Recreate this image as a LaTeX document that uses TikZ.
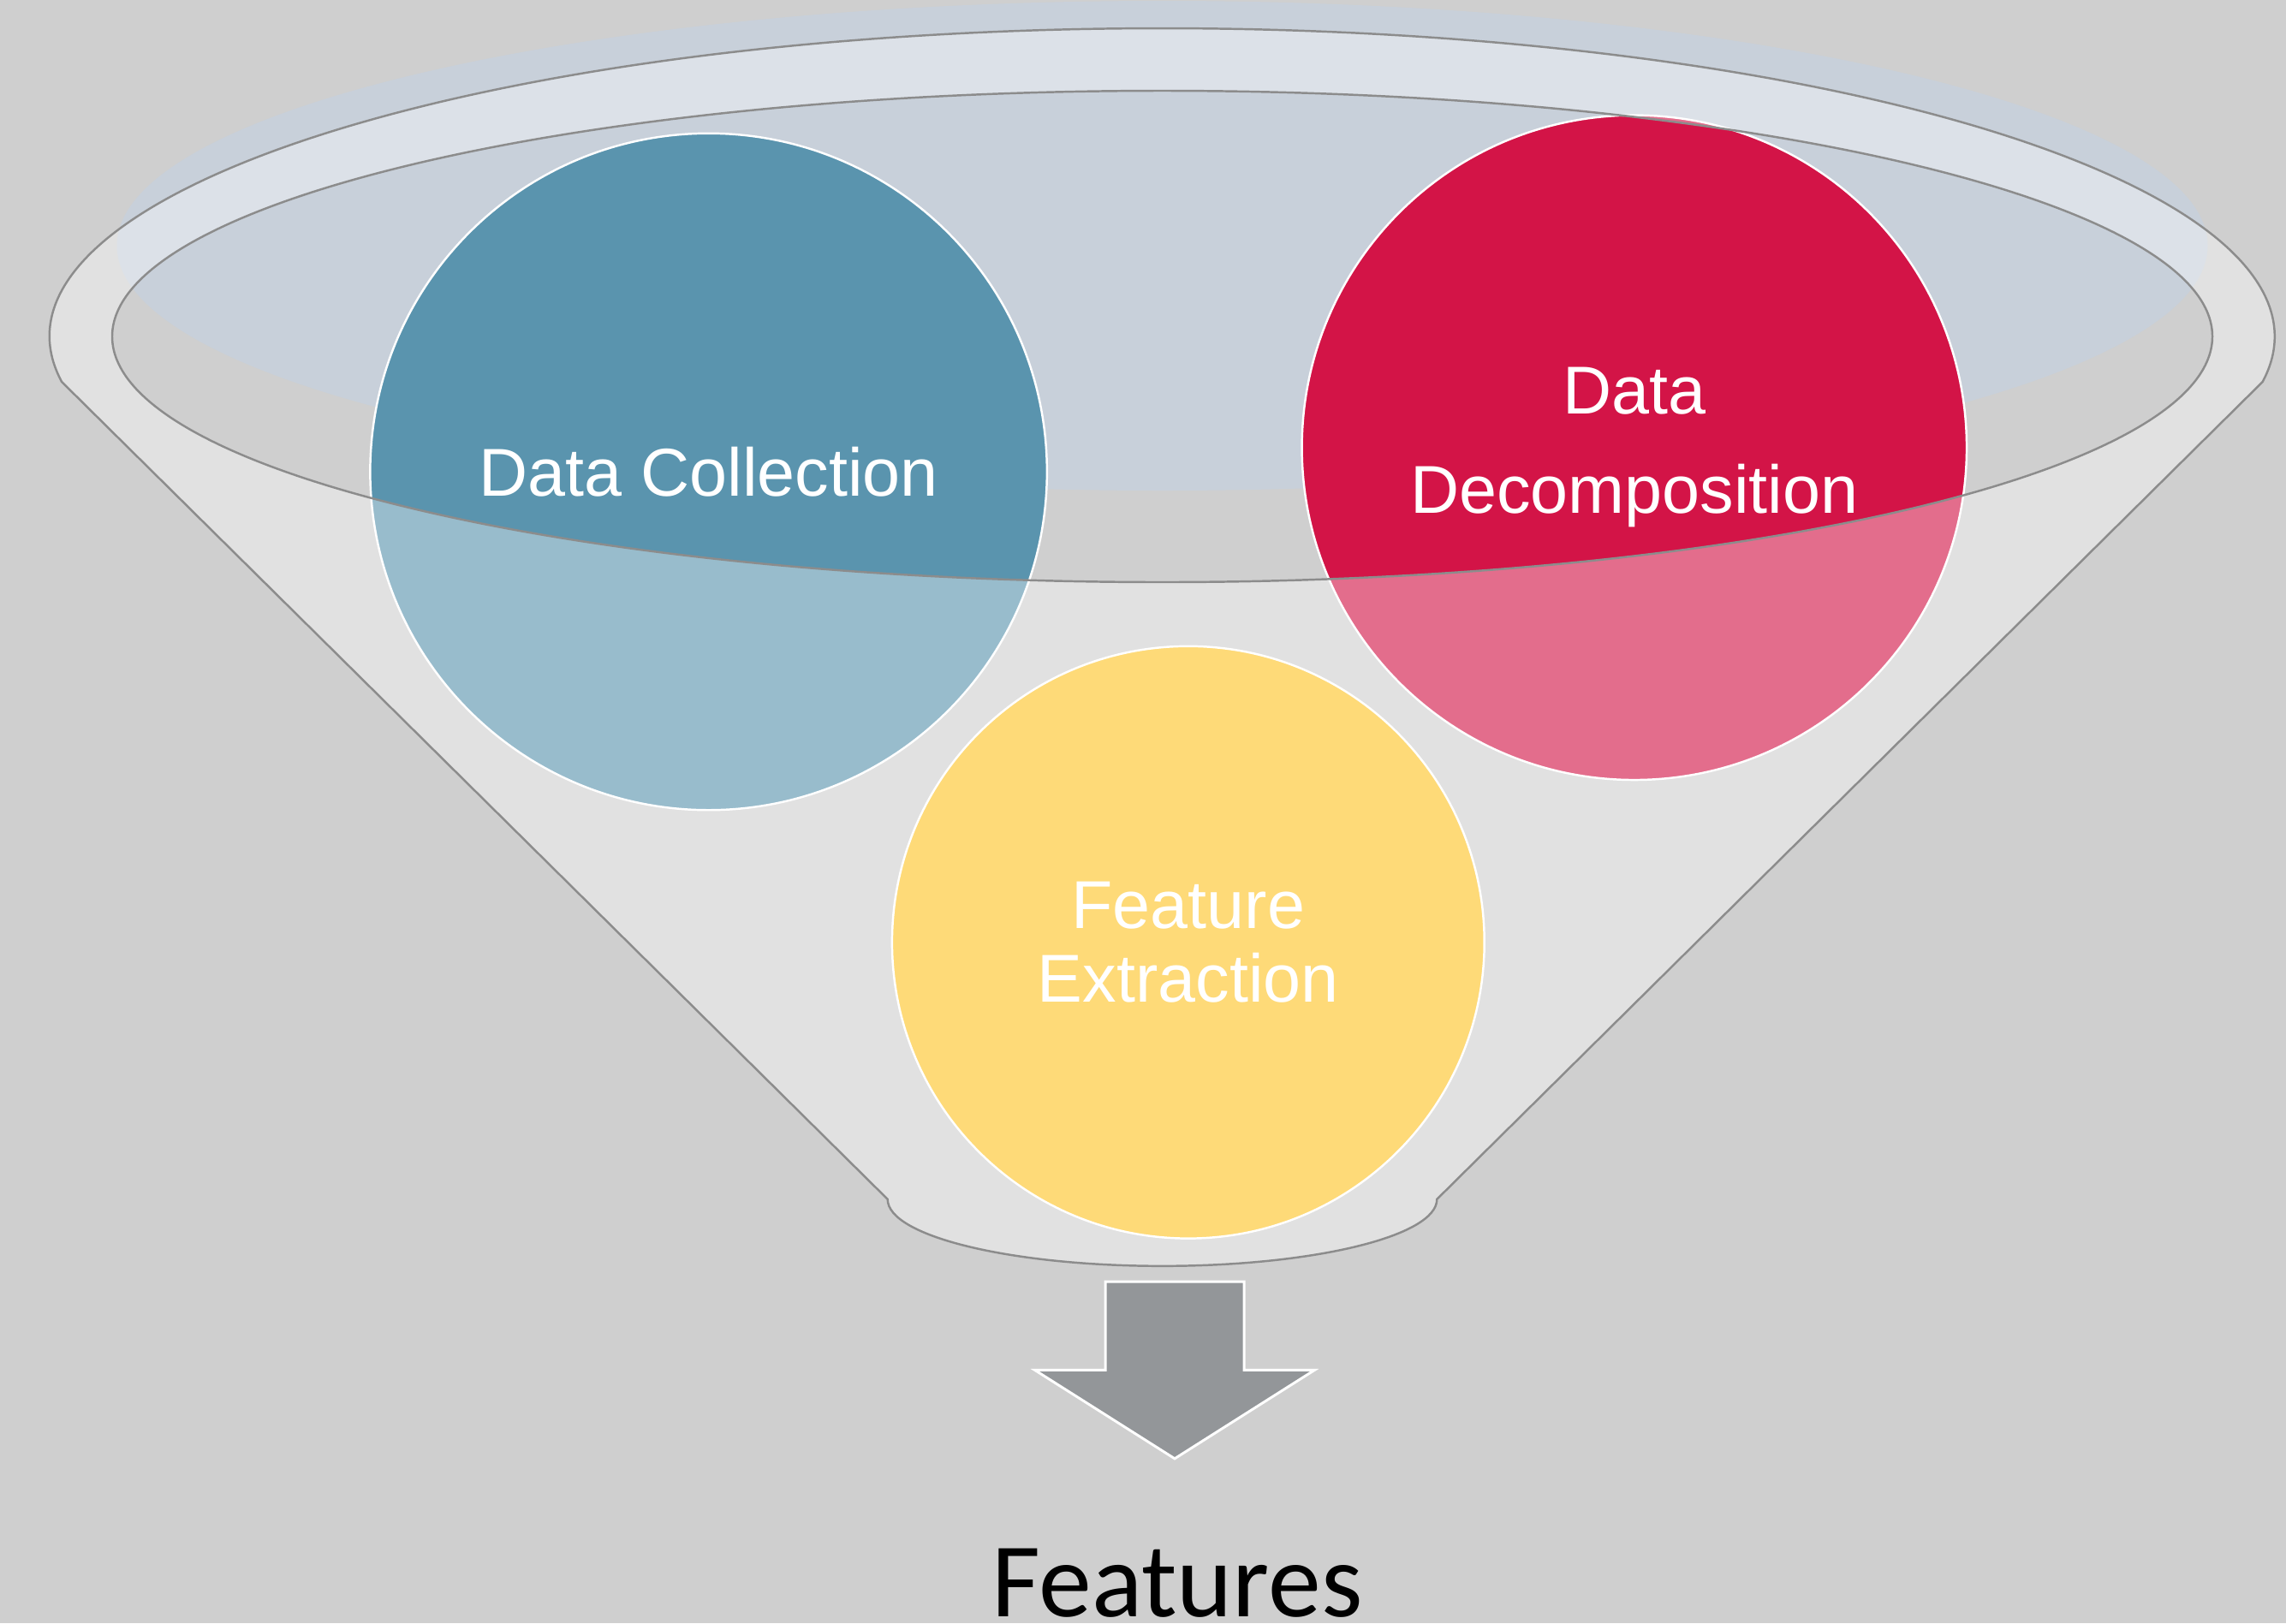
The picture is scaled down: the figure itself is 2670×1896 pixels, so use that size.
\documentclass[tikz,border=0pt]{standalone}
\usepackage{fontspec}
\newfontfamily\arialf{Liberation Sans}
\newfontfamily\calibrif{Carlito}
\definecolor{bgc}{RGB}{207,207,207}
\definecolor{bluegray}{RGB}{200,208,218}
\definecolor{outlinec}{RGB}{140,140,140}
\definecolor{dcblue}{RGB}{90,148,174}
\definecolor{ddred}{RGB}{211,20,71}
\definecolor{feyellow}{RGB}{254,218,120}
\definecolor{arrowgray}{RGB}{147,150,153}
\tikzset{
  bubble/.style={circle, draw=white, line width=0.7pt, inner sep=0pt, align=center,
    text=white, font=\arialf\fontsize{22.5}{33}\selectfont},
  funnelline/.style={draw=outlinec, line width=0.7pt},
  blockarrow/.style={fill=arrowgray, draw=white, line width=0.85pt, line join=miter}
}
\begin{document}
\begin{tikzpicture}[x=0.01cm, y=-0.01cm]
\useasboundingbox (0,0) rectangle (2670,1896);
\fill[bgc] (0,0) rectangle (2670,1896);
% back ellipse of the funnel mouth
\fill[bluegray] (1357.5,287) ellipse [x radius=1221, y radius=286];
% circles behind the funnel front
\node[bubble, fill=dcblue, minimum size=7.9cm] (dc) at (827.6,551) {Data Collection};
\node[bubble, fill=ddred, minimum size=7.76cm] (dd) at (1908.8,522.8) {Data\\Decomposition};
% funnel front (translucent)
\fill[white, fill opacity=0.38, even odd rule]
  (72.1,446) arc [start angle=171.534, end angle=368.466, x radius=1299.5, y radius=360]
  -- (1678.3,1400.8) arc [start angle=0, end angle=180, x radius=320.8, y radius=78]
  -- cycle
  (1357.5,393) ellipse [x radius=1226.5, y radius=287];
\draw[funnelline]
  (72.1,446) arc [start angle=171.534, end angle=368.466, x radius=1299.5, y radius=360]
  -- (1678.3,1400.8) arc [start angle=0, end angle=180, x radius=320.8, y radius=78]
  -- cycle;
\draw[funnelline] (1357.5,393) ellipse [x radius=1226.5, y radius=287];
% front circle
\node[bubble, fill=feyellow, minimum size=6.914cm, font=\arialf\fontsize{22.5}{24.5}\selectfont] (fe) at (1387.8,1100.7) {Feature\\Extraction};
% output arrow
\coordinate (a1) at (1291,1497);
\coordinate (a2) at (1453,1497);
\coordinate (a3) at (1453,1600.4);
\coordinate (a4) at (1535.3,1600.4);
\coordinate (tip) at (1372,1703.8);
\coordinate (a6) at (1208.7,1600.4);
\coordinate (a7) at (1291,1600.4);
\draw[blockarrow] (a1) -- (a2) -- (a3) -- (a4) -- (tip) -- (a6) -- (a7) -- cycle;
\node[anchor=base, inner sep=0pt, font=\calibrif\fontsize{35.2}{40}\selectfont, text=black] (feat) at (1375,1888) {Features};
\end{tikzpicture}
\end{document}
